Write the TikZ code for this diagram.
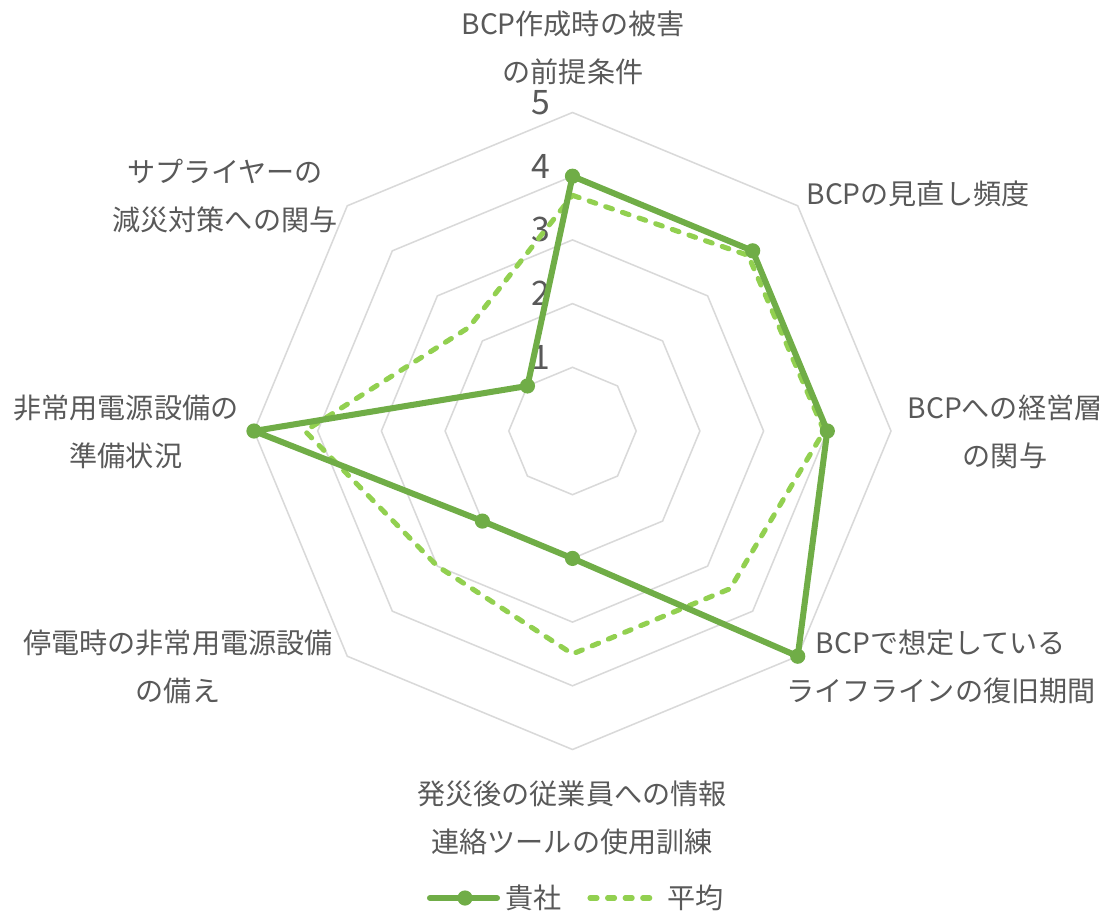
\documentclass[tikz,border=0pt]{standalone}
\usepackage{fontspec}
\setmainfont{Noto Sans CJK JP}

\definecolor{ownColor}{HTML}{70AD47}
\definecolor{avgColor}{HTML}{92D050}
\definecolor{gridColor}{HTML}{D9D9D9}
\definecolor{textColor}{HTML}{595959}

\begin{document}
\begin{tikzpicture}[
	axislabel/.style={align=center, text=textColor, inner sep=0pt, font=\fontsize{20}{34}\selectfont},
	ticklabel/.style={anchor=east, text=textColor, inner sep=0pt, font=\fontsize{24}{24}\selectfont},
	keylabel/.style={anchor=west, text=textColor, inner sep=0pt, font=\fontsize{20}{20}\selectfont},
	ownline/.style={draw=ownColor, line width=4.3pt, line join=round},
	avgline/.style={draw=avgColor, line width=3.6pt, line cap=round, line join=round, dash pattern=on 5pt off 7.5pt},
	ownmark/.style={circle, fill=ownColor, inner sep=0pt, minimum size=0.38cm}]

	\def\unit{1.5925cm}
	\def\tickX{-0.54}
	\def\keyY{-11.675}

	\useasboundingbox (-14.3125,-12.05) rectangle (13.2625,10.775);

	% Grid
	\foreach \r in {1,2,3,4,5}
		\draw[gridColor, line width=1.1pt] (90:{\r*\unit})
			\foreach \a in {45,0,...,-225} { -- (\a:{\r*\unit}) } -- cycle;

	% Tick labels
	\foreach \t in {1,2,3,4,5}
		\node[ticklabel] (tick\t) at (\tickX, {\t*\unit+0.25cm}) {\t};

	% Axis labels
	\node[axislabel] (ax0) at (0.0125, 9.575) {BCP作成時の被害\\の前提条件};
	\node[axislabel] (ax1) at (8.6375, 5.925) {BCPの見直し頻度};
	\node[axislabel] (ax2) at (10.8125, -0.025) {BCPへの経営層\\の関与};
	\node[axislabel] (ax3) at (9.2125, -5.9) {BCPで想定している\\ライフラインの復旧期間};
	\node[axislabel] (ax4) at (-0.0125, -9.675) {発災後の従業員への情報\\連絡ツールの使用訓練};
	\node[axislabel] (ax5) at (-9.8625, -5.9) {停電時の非常用電源設備\\の備え};
	\node[axislabel] (ax6) at (-11.1625, -0.025) {非常用電源設備の\\準備状況};
	\node[axislabel] (ax7) at (-8.6875, 5.875) {サプライヤーの\\減災対策への関与};

	% Data points
	\foreach \v [count=\i from 0] in {4,4,4,5,2,2,5,1}
		\coordinate (own\i) at ({90-45*\i}:{\v*\unit});
	\foreach \v [count=\i from 0] in {3.7,3.9,3.95,3.5,3.5,3.0,4.2,2.3}
		\coordinate (avg\i) at ({90-45*\i}:{\v*\unit});

	% Average
	\draw[avgline] (avg0) -- (avg1) -- (avg2) -- (avg3) -- (avg4) -- (avg5) -- (avg6) -- (avg7) -- cycle;

	% Own company
	\draw[ownline] (own0) -- (own1) -- (own2) -- (own3) -- (own4) -- (own5) -- (own6) -- (own7) -- cycle;
	\foreach \i in {0,...,7}
		\node[ownmark] (ownpt\i) at (own\i) {};

	% Legend
	\coordinate (ownkeyA) at (-3.5625, \keyY);
	\node[ownmark] (ownkeyM) at (-2.6875, \keyY) {};
	\node[keylabel] (ownkey) at (-1.6875, \keyY) {貴社};
	\draw[ownline, line cap=round] (ownkeyA) -- ([xshift=-0.2cm]ownkey.west);

	\coordinate (avgkeyA) at (0.4375, \keyY);
	\node[keylabel] (avgkey) at (2.3625, \keyY) {平均};
	\draw[avgline] (avgkeyA) -- ([xshift=-0.2cm]avgkey.west);

\end{tikzpicture}
\end{document}
